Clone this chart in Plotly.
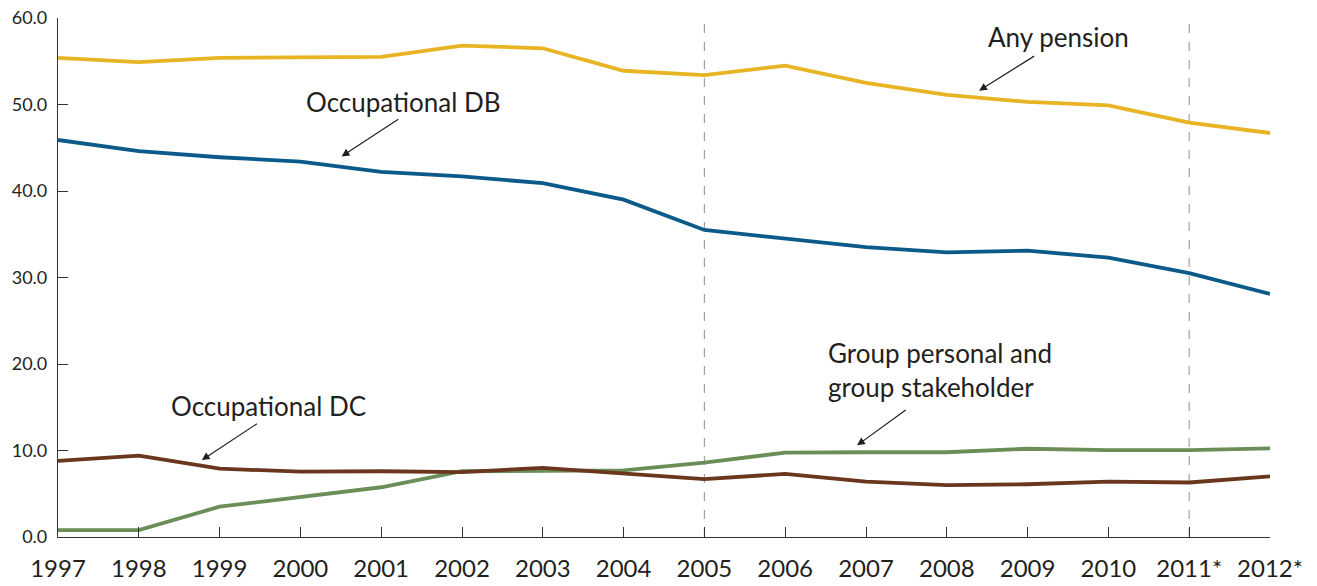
import plotly.graph_objects as go

years = ["1997", "1998", "1999", "2000", "2001", "2002", "2003", "2004",
         "2005", "2006", "2007", "2008", "2009", "2010", "2011*", "2012*"]
any_pension = [55.4, 54.9, 55.4, 55.5, 55.5, 56.8, 56.5, 53.9,
               53.4, 54.5, 52.5, 51.1, 50.3, 49.9, 47.9, 46.7]
occ_db = [45.9, 44.6, 43.9, 43.4, 42.2, 41.7, 40.9, 39.0,
          35.5, 34.5, 33.5, 32.9, 33.1, 32.3, 30.5, 28.1]
occ_dc = [8.8, 9.4, 7.9, 7.55, 7.6, 7.5, 8.0, 7.3,
          6.7, 7.3, 6.4, 6.0, 6.1, 6.4, 6.3, 7.0]
group_pers = [0.8, 0.8, 3.5, 4.65, 5.75, 7.6, 7.6, 7.7,
              8.6, 9.75, 9.8, 9.8, 10.2, 10.05, 10.05, 10.25]
yticks = [0, 10, 20, 30, 40, 50, 60]

idx = list(range(len(years)))
FONT = "Lato"
TXT = "#231F20"

fig = go.Figure()
series = [
    (any_pension, "#E8B423", "Any pension"),
    (occ_db, "#0B5A8A", "Occupational DB"),
    (group_pers, "#6B8E58", "Group personal and group stakeholder"),
    (occ_dc, "#6A371E", "Occupational DC"),
]
for vals, col, name in series:
    fig.add_trace(go.Scatter(x=idx, y=vals, mode="lines", name=name,
                             line=dict(color=col, width=3.8), cliponaxis=False))

for i in (8, 14):
    fig.add_shape(type="line", x0=i, x1=i, y0=0, y1=60.7, xref="x", yref="y",
                  line=dict(color="#A0A0A0", width=1.2, dash="dash"), layer="below")

def label(text, x, y, xanchor="center", align="center"):
    fig.add_annotation(x=x, y=y, text=text, showarrow=False, xanchor=xanchor,
                       align=align, font=dict(family=FONT, size=26, color=TXT))

def arrow(x0, y0, x1, y1):
    fig.add_annotation(x=x1, y=y1, ax=x0, ay=y0, axref="x", ayref="y", text="",
                       showarrow=True, arrowhead=2, arrowsize=1.3, arrowwidth=1.2,
                       arrowcolor=TXT)

label("Occupational DB", 4.27, 50.3)
arrow(4.23, 48.4, 3.51, 44.0)
label("Any pension", 12.38, 57.8)
arrow(12.10, 55.7, 11.40, 51.6)
label("Occupational DC", 2.60, 15.1)
arrow(2.48, 13.2, 1.78, 8.9)
label("Group personal and<br>group stakeholder", 9.50, 19.3, xanchor="left", align="left")
arrow(10.51, 14.8, 9.89, 10.6)

# page body has an 8px default margin; size the figure to compensate
fig.update_layout(
    width=1309, height=578,
    margin=dict(l=50, r=47, t=10, b=49),
    plot_bgcolor="white", paper_bgcolor="white",
    showlegend=False,
    font=dict(family=FONT, color=TXT),
)
fig.update_xaxes(range=[0, 15], tickvals=idx, ticktext=years, ticks="inside",
                 ticklen=10, tickcolor="#333", showline=True, linecolor="#333",
                 linewidth=1.2, showgrid=False, zeroline=False, automargin=False,
                 ticklabelstandoff=10, ticklabeloverflow="allow",
                 tickfont=dict(family=FONT, size=24, color=TXT))
fig.update_yaxes(range=[0, 60], tickvals=yticks,
                 ticktext=[f"{v:.1f}" for v in yticks], ticks="inside",
                 ticklen=10, tickcolor="#333", showline=True, linecolor="#333",
                 linewidth=1.2, showgrid=False, zeroline=False, automargin=False,
                 ticklabelstandoff=6, ticklabeloverflow="allow",
                 tickfont=dict(family=FONT, size=18, color=TXT))

fig.write_html("out.html")
